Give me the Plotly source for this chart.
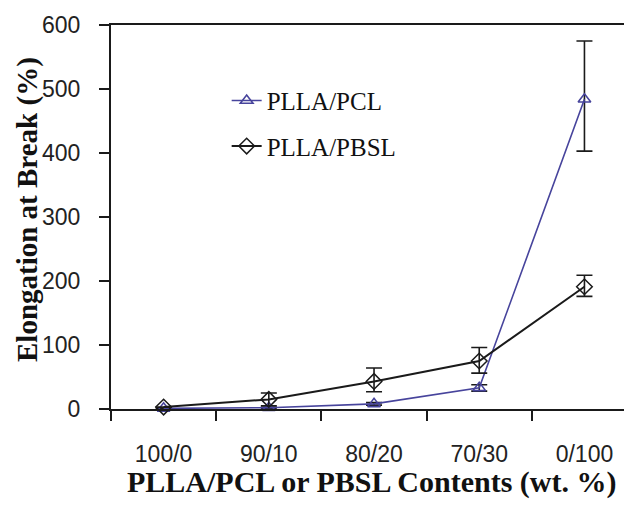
import plotly.graph_objects as go

categories = ["100/0", "90/10", "80/20", "70/30", "0/100"]
pcl_values = [1, 2, 8, 33, 484]
pcl_err_plus = [0, 1, 2, 5, 91]
pcl_err_minus = [0, 1, 2, 5, 81]
pbsl_values = [3, 15, 43, 75, 191]
pbsl_err_plus = [0, 10, 21, 21, 18]
pbsl_err_minus = [0, 10, 16, 19, 15]
y_ticks = [0, 100, 200, 300, 400, 500, 600]

BLUE = "#47449c"
BLACK = "#1a1a1a"
TICKFONT = dict(family="Liberation Sans Narrow, Arial Narrow, Liberation Sans, Arial, sans-serif",
                size=23, color="#222")
SERIF = "Liberation Serif, Times New Roman, serif"

# page body has an 8px margin: figure is sized/placed to compensate
W, H = 624, 497

fig = go.Figure()
fig.add_trace(go.Scatter(
    x=categories, y=pcl_values, name="PLLA/PCL", mode="lines+markers",
    line=dict(color=BLUE, width=1.6),
    marker=dict(symbol="triangle-up-open", size=11, color=BLUE, line=dict(width=1.6, color=BLUE)),
    error_y=dict(type="data", array=pcl_err_plus, arrayminus=pcl_err_minus, symmetric=False,
                 color=BLACK, thickness=1.6, width=8),
    cliponaxis=False, legendgroup="a",
))
fig.add_trace(go.Scatter(
    x=categories, y=pbsl_values, name="PLLA/PBSL", mode="lines+markers",
    line=dict(color=BLACK, width=2),
    marker=dict(symbol="diamond-open", size=12, color=BLACK, line=dict(width=1.5, color=BLACK)),
    error_y=dict(type="data", array=pbsl_err_plus, arrayminus=pbsl_err_minus, symmetric=False,
                 color=BLACK, thickness=1.6, width=8),
    cliponaxis=False, legendgroup="b",
))

fig.update_layout(
    width=W, height=H,
    margin=dict(l=103, r=0, t=17, b=96, pad=0),
    paper_bgcolor="white", plot_bgcolor="white",
    showlegend=True,
    legend=dict(x=0.222, y=0.744, xanchor="left", yanchor="middle",
                font=dict(family=SERIF, size=25, color="#111"),
                bgcolor="rgba(0,0,0,0)", tracegroupgap=10, traceorder="grouped"),
    xaxis=dict(type="category", range=[-0.5, 4.452], tickson="boundaries",
               ticks="outside", ticklen=10, tickwidth=2, tickcolor=BLACK,
               showline=True, linecolor=BLACK, linewidth=2, mirror=True,
               showgrid=False, zeroline=False, tickfont=TICKFONT,
               ticklabelstandoff=23),
    yaxis=dict(range=[0, 600], tickvals=y_ticks,
               ticks="outside", ticklen=10, tickwidth=2, tickcolor=BLACK,
               showline=True, linecolor=BLACK, linewidth=2,
               showgrid=False, zeroline=False, tickfont=TICKFONT,
               ticklabelstandoff=14),
    annotations=[
        dict(text="<b>Elongation at Break (%)</b>", xref="paper", yref="paper",
             x=0, y=(409 - 210) / 384, xshift=-84, textangle=-90,
             xanchor="center", yanchor="middle", showarrow=False,
             font=dict(family=SERIF, size=29, color="#111")),
        dict(text="<b>PLLA/PCL or PBSL Contents (wt. %)</b>", xref="paper", yref="paper",
             x=0.5, y=0, yshift=-73, xanchor="center", yanchor="middle", showarrow=False,
             font=dict(family=SERIF, size=30, color="#111")),
    ],
)

fig.write_html("out.html")
